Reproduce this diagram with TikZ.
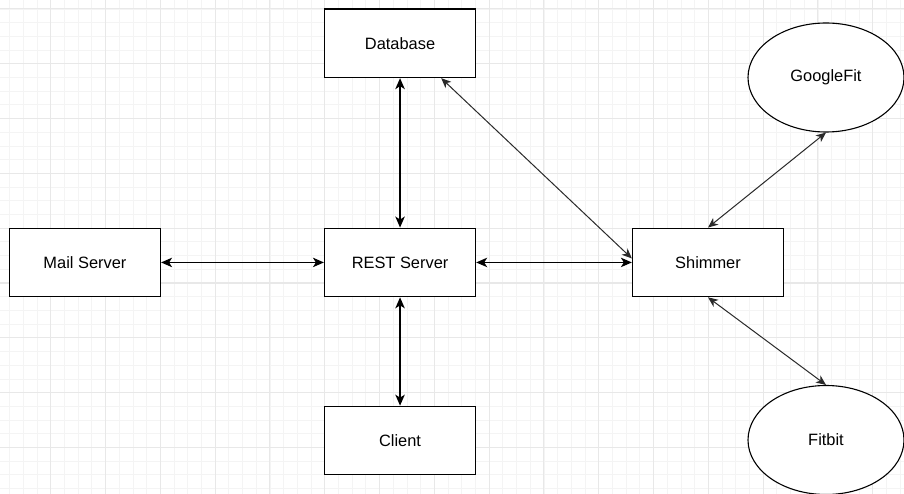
\documentclass[tikz,border=0pt]{standalone}
\usepackage{fontspec}
\setmainfont{Liberation Sans}
\usetikzlibrary{arrows.meta,shapes.geometric}
\definecolor{minorgrid}{HTML}{F4F4F4}
\definecolor{majorgrid}{HTML}{E8E8E8}
\definecolor{thinline}{HTML}{2A2A2A}
\tikzset{
  box/.style={draw=black, line width=1.3pt, fill=white, minimum width=151pt, minimum height=68.5pt, inner sep=0pt, text depth=-2pt, font=\fontsize{16.4}{19}\selectfont},
  oval/.style={ellipse, draw=black, line width=1.1pt, fill=white, minimum width=156pt, minimum height=109pt, inner sep=0pt, font=\fontsize{16.4}{19}\selectfont},
  link/.style={line width=1.3pt, {Stealth[length=11pt,width=9.5pt,inset=3pt]}-{Stealth[length=11pt,width=9.5pt,inset=3pt]}},
  thinlink/.style={draw=thinline, line width=1pt, {Stealth[length=10pt,width=8.5pt,inset=3pt]}-{Stealth[length=10pt,width=8.5pt,inset=3pt]}},
}
\begin{document}
\begin{tikzpicture}[x=1pt,y=1pt]
  \useasboundingbox (0,0) rectangle (904,493);
  \clip (0,0) rectangle (904,493);
  \fill[white] (0,0) rectangle (904,493);
  % background grid
  \begin{scope}[shift={(50.7,484)}]
    \draw[minorgrid, line width=0.8pt, step=13.7pt] (-60,-500) grid (870,20);
    \draw[majorgrid, line width=1pt, step=54.8pt] (-60,-500) grid (870,20);
  \end{scope}
  % nodes
  \node[box] (db) at (400.05,449.75) {Database};
  \node[box] (rest) at (400.05,230.55) {REST Server};
  \node[box] (client) at (400.05,52.45) {Client};
  \node[box] (mail) at (84.95,230.55) {Mail Server};
  \node[box] (shim) at (708,230.55) {Shimmer};
  \node[oval] (gfit) at (826,415.5) {GoogleFit};
  \node[oval] (fitbit) at (826,53) {Fitbit};
  % connectors
  \draw[link] (db) -- (rest);
  \draw[link] (rest) -- (client);
  \draw[link] (mail) -- (rest);
  \draw[link] (rest) -- (shim);
  \draw[thinlink] ([xshift=-35pt]db.south east) -- ([yshift=4pt]shim.west);
  \draw[thinlink] (shim.north) -- (gfit.south);
  \draw[thinlink] (shim.south) -- (fitbit.north);
\end{tikzpicture}
\end{document}
